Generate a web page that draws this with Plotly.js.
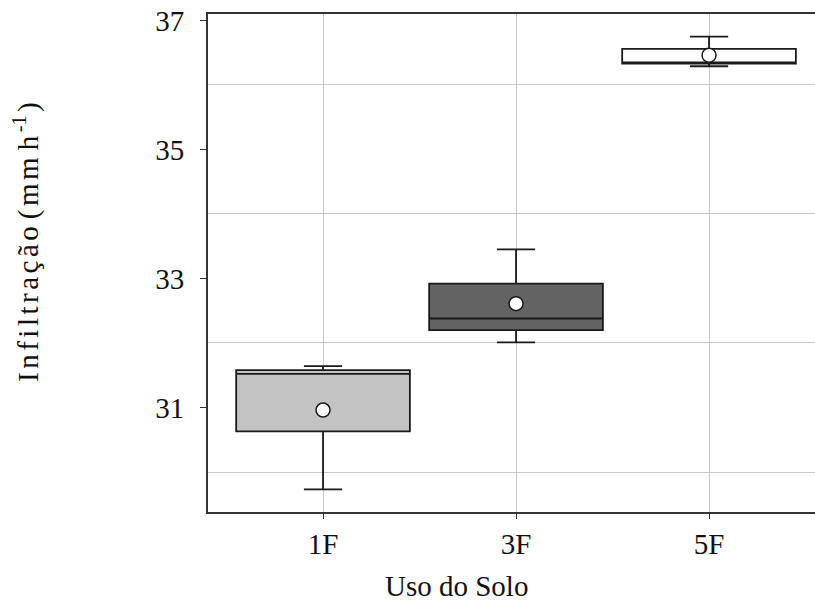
<!DOCTYPE html>
<html>
<head>
<meta charset="utf-8">
<script src="https://cdn.plot.ly/plotly-3.0.1.min.js"></script>
<style>html,body{margin:0;padding:0;background:#fff;}#chart{width:815px;height:602px;}</style>
</head>
<body>
<div id="chart"></div>
<script>
var categories = ['1F', '3F', '5F'];
var lowerWhisker = [29.73, 32.01, 36.29];
var q1 = [30.63, 32.20, 36.33];
var median = [31.52, 32.38, 36.35];
var q3 = [31.58, 32.92, 36.56];
var upperWhisker = [31.64, 33.45, 36.75];
var means = [30.96, 32.61, 36.46];
var yTickVals = [31, 33, 35, 37];
var yGridVals = [30, 32, 34, 36];

var fills = ['#c3c3c3', '#636363', '#ffffff'];
var fam = 'Liberation Serif';

var traces = categories.map(function (c, i) {
  return {
    type: 'box',
    x: [c],
    q1: [q1[i]],
    median: [median[i]],
    q3: [q3[i]],
    lowerfence: [lowerWhisker[i]],
    upperfence: [upperWhisker[i]],
    fillcolor: fills[i],
    line: {color: '#1a1a1a', width: 1.8},
    whiskerwidth: 0.22,
    width: 0.9,
    boxpoints: false,
    showlegend: false
  };
});
traces.push({
  type: 'scatter',
  mode: 'markers',
  x: categories,
  y: means,
  marker: {symbol: 'circle', size: 14, color: '#ffffff', line: {color: '#1a1a1a', width: 1.5}},
  showlegend: false
});

var gap = '<span style="font-size:14px"> </span>';
function spaced(s) { return s.split('').join(gap); }
var yTitle = spaced('Infiltração') + gap + gap + spaced('(mm') + gap + gap + 'h' + gap + '<sup>-1</sup>' + gap + ')';

var layout = {
  width: 815,
  height: 602,
  margin: {l: 208, r: 0, t: 14, b: 90},
  paper_bgcolor: '#ffffff',
  plot_bgcolor: '#ffffff',
  boxmode: 'overlay',
  font: {family: fam, size: 29, color: '#111'},
  xaxis: {
    type: 'category',
    range: [-0.596, 2.549],
    showgrid: true,
    gridcolor: '#c8c8c8',
    gridwidth: 1,
    showline: true,
    linecolor: '#333',
    linewidth: 2,
    mirror: true,
    ticks: 'outside',
    ticklen: 5,
    tickcolor: '#333',
    tickfont: {family: fam, size: 29},
    zeroline: false
  },
  yaxis: {
    range: [29.38, 37.10],
    tickmode: 'array',
    tickvals: yTickVals,
    ticktext: yTickVals.map(String),
    showgrid: false,
    showline: true,
    linecolor: '#333',
    linewidth: 2,
    ticks: 'outside',
    ticklen: 6,
    tickcolor: '#333',
    ticklabelstandoff: 10,
    tickfont: {family: fam, size: 29},
    zeroline: false,
    minor: {tickmode: 'array', tickvals: yGridVals, showgrid: true, gridcolor: '#c8c8c8', gridwidth: 1, ticklen: 0}
  },
  annotations: [
    {
      text: 'Uso do Solo',
      xref: 'paper', yref: 'paper',
      x: 0.41, y: -0.148,
      xanchor: 'center', yanchor: 'middle',
      showarrow: false,
      font: {family: fam, size: 29}
    },
    {
      text: yTitle,
      xref: 'paper', yref: 'paper',
      x: -0.300, y: 0.542,
      xanchor: 'center', yanchor: 'middle',
      textangle: -90,
      showarrow: false,
      font: {family: fam, size: 29}
    }
  ]
};

Plotly.newPlot('chart', traces, layout, {displayModeBar: false, staticPlot: true});
</script>
</body>
</html>
